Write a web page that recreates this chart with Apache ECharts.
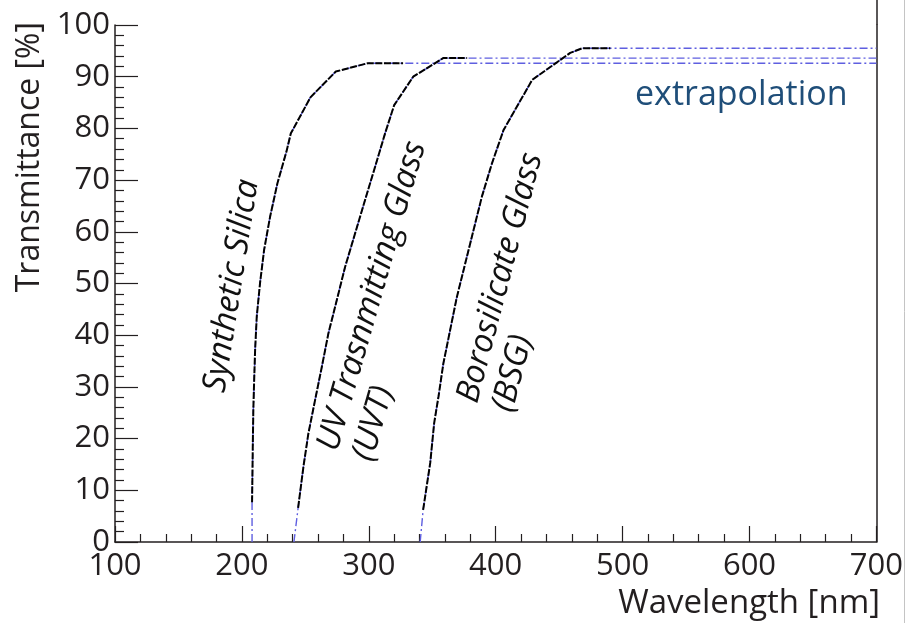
<!DOCTYPE html>
<html>
<head>
<meta charset="utf-8">
<script src="https://cdn.jsdelivr.net/npm/echarts@6/dist/echarts.min.js"></script>
<style>
  html, body { margin: 0; padding: 0; background: #ffffff; }
  #chart { width: 906px; height: 623px; }
</style>
</head>
<body>
<div id="chart"></div>
<script>
// Measured transmittance curves: wavelength [nm] and transmittance [%]
const silicaWavelength = [208, 208.3, 208.6, 209, 209.6, 210.4, 211.7, 214.3, 217.5, 222.2, 228, 235.4, 238.5, 254, 274, 299, 327];
const silicaTransmittance = [7.7, 13, 19, 25.5, 30.8, 37.1, 43.6, 50.1, 56.5, 62.9, 69.4, 75.8, 79, 86, 91, 92.6, 92.6];

const uvtWavelength = [244.3, 248.5, 252.4, 257.7, 263, 268.2, 274.8, 281.3, 289.2, 297.1, 305, 312.9, 320, 335, 358.6, 377.5];
const uvtTransmittance = [6.6, 14.6, 21, 27.5, 33.9, 40.4, 46.8, 53.2, 59.7, 66.2, 72.6, 79.1, 84.5, 90, 93.6, 93.6];

const bsgWavelength = [342.8, 348.4, 351.5, 354.9, 358.8, 364.1, 369.4, 376, 382.5, 389.1, 397, 406.2, 428.8, 458.7, 468.2, 490.3];
const bsgTransmittance = [6.2, 15.3, 23, 28.1, 34.6, 41, 47.4, 53.9, 60.3, 66.8, 73.2, 79.7, 89.4, 94.6, 95.5, 95.5];

// Extrapolation: cut-off wavelength at 0 % and the plateau carried out to 700 nm
const silicaCutoff = 208;
const uvtCutoff = 241;
const bsgCutoff = 340.5;
const extrapolationEnd = 700;

// Axis ranges and tick spacing
const xTickLabels = [100, 200, 300, 400, 500, 600, 700];
const yTickLabels = [0, 10, 20, 30, 40, 50, 60, 70, 80, 90, 100];

const AXIS_COLOR = '#231f20';
const FONT = '"Open Sans", "Noto Sans", sans-serif';

function pairs(xs, ys) {
  return xs.map((x, i) => [x, ys[i]]);
}
function extrapolated(cutoff, xs, ys) {
  return [[cutoff, 0]].concat(pairs(xs, ys), [[extrapolationEnd, ys[ys.length - 1]]]);
}

const materials = [
  { wl: silicaWavelength, t: silicaTransmittance, cut: silicaCutoff },
  { wl: uvtWavelength, t: uvtTransmittance, cut: uvtCutoff },
  { wl: bsgWavelength, t: bsgTransmittance, cut: bsgCutoff }
];

const series = [];
materials.forEach(m => {
  series.push({
    type: 'line', data: extrapolated(m.cut, m.wl, m.t),
    showSymbol: false, symbol: 'none', silent: true, z: 2,
    lineStyle: { color: '#5f5fe0', width: 1.4, type: [8, 3, 2, 3] }
  });
});
materials.forEach(m => {
  series.push({
    type: 'line', data: pairs(m.wl, m.t),
    showSymbol: false, symbol: 'none', silent: true, z: 3,
    lineStyle: { color: '#000000', width: 2, type: [7, 1.6] }
  });
});

const chart = echarts.init(document.getElementById('chart'), null, { renderer: 'canvas' });

function labelText(text, x, y, deg) {
  return {
    type: 'text', x: x, y: y, rotation: deg * Math.PI / 180, silent: true,
    style: {
      text: text, fill: '#111111', align: 'left', verticalAlign: 'middle',
      font: 'italic 33px ' + FONT
    }
  };
}

chart.setOption({
  animation: false,
  backgroundColor: '#ffffff',
  grid: { left: 115, right: 29, top: 25, bottom: 81, containLabel: false },
  xAxis: {
    type: 'value', min: xTickLabels[0], max: xTickLabels[xTickLabels.length - 1], interval: 100,
    axisLine: { show: true, onZero: false, lineStyle: { color: AXIS_COLOR, width: 1.5 } },
    axisTick: { show: true, inside: true, length: 16, lineStyle: { color: AXIS_COLOR, width: 1.2 } },
    minorTick: { show: true, splitNumber: 5, length: 8, lineStyle: { color: AXIS_COLOR, width: 1.2 } },
    splitLine: { show: false },
    axisLabel: { color: AXIS_COLOR, fontFamily: FONT, fontSize: 31, margin: 9, showMinLabel: true, showMaxLabel: true }
  },
  yAxis: [{
    type: 'value', min: yTickLabels[0], max: yTickLabels[yTickLabels.length - 1], interval: 10,
    axisLine: { show: true, onZero: false, lineStyle: { color: AXIS_COLOR, width: 1.5 } },
    axisTick: { show: true, inside: true, length: 23, lineStyle: { color: AXIS_COLOR, width: 1.2 } },
    minorTick: { show: true, splitNumber: 5, length: 9, lineStyle: { color: AXIS_COLOR, width: 1.2 } },
    splitLine: { show: false },
    axisLabel: { color: AXIS_COLOR, fontFamily: FONT, fontSize: 31, margin: 5 }
  }, {
    type: 'value', position: 'right', min: 0, max: 100,
    axisLine: { show: true, onZero: false, lineStyle: { color: AXIS_COLOR, width: 1.5 } },
    axisTick: { show: false }, axisLabel: { show: false }, splitLine: { show: false }
  }],
  series: series,
  graphic: [
    // frame edge continues to the top of the canvas
    { type: 'line', silent: true, shape: { x1: 877, y1: 0, x2: 877, y2: 25 }, style: { stroke: AXIS_COLOR, lineWidth: 1.5 } },
    { type: 'line', silent: true, shape: { x1: 904.5, y1: 0, x2: 904.5, y2: 623 }, style: { stroke: '#c4c4c4', lineWidth: 1 } },
    // axis titles
    { type: 'text', x: 880, y: 604, silent: true,
      style: { text: 'Wavelength [nm]', fill: AXIS_COLOR, align: 'right', verticalAlign: 'middle', font: '33px ' + FONT } },
    { type: 'text', x: 30, y: 22, rotation: Math.PI / 2, silent: true,
      style: { text: 'Transmittance [%]', fill: AXIS_COLOR, align: 'right', verticalAlign: 'middle', font: '32px ' + FONT } },
    { type: 'text', x: 635, y: 95, silent: true,
      style: { text: 'extrapolation', fill: '#1f4e79', align: 'left', verticalAlign: 'middle', font: '34px ' + FONT } },
    // material labels
    labelText('Synthetic Silica', 215, 392, 81),
    labelText('UV Trasnmitting Glass', 328, 450, 74),
    labelText('(UVT)', 363, 460, 74),
    labelText('Borosilicate Glass', 468, 402, 75.4),
    labelText('(BSG)', 503, 411, 75.4)
  ]
});
</script>
</body>
</html>
